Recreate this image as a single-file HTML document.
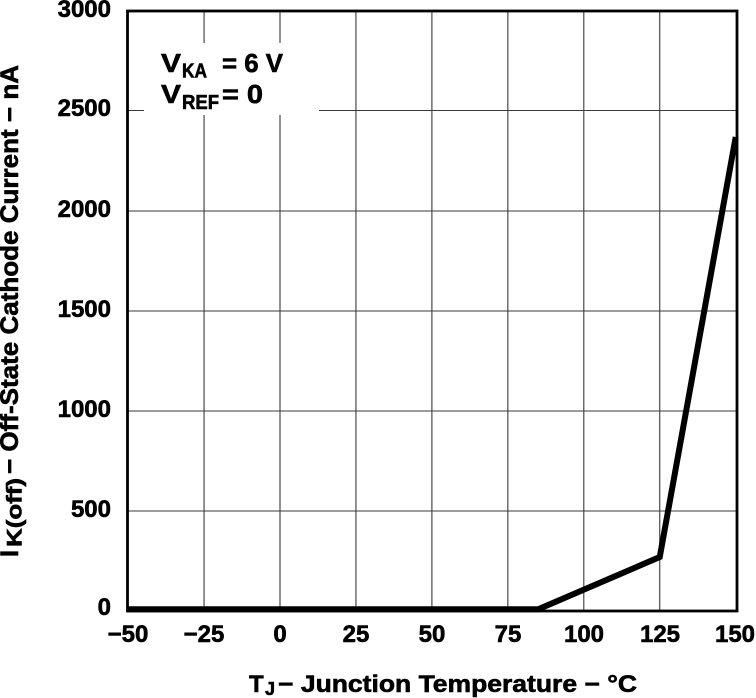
<!DOCTYPE html>
<html>
<head>
<meta charset="utf-8">
<style>
  html, body { margin: 0; padding: 0; background: #ffffff; }
  body { width: 756px; height: 698px; overflow: hidden; }
  svg { display: block; }
  text { font-family: "Liberation Sans", Arial, sans-serif; font-weight: bold; fill: #000; stroke: #000; stroke-width: 0.6; }
</style>
</head>
<body>
<svg width="756" height="698" viewBox="0 0 756 698" xmlns="http://www.w3.org/2000/svg">
  <!-- grid lines -->
  <g stroke="#3a3a3a" stroke-width="1.1" fill="none">
    <line x1="204.05" y1="11" x2="204.05" y2="611"/>
    <line x1="280" y1="11" x2="280" y2="611"/>
    <line x1="355.95" y1="11" x2="355.95" y2="611"/>
    <line x1="431.9" y1="11" x2="431.9" y2="611"/>
    <line x1="507.85" y1="11" x2="507.85" y2="611"/>
    <line x1="583.8" y1="11" x2="583.8" y2="611"/>
    <line x1="659.75" y1="11" x2="659.75" y2="611"/>
    <line x1="127.5" y1="110.5" x2="737" y2="110.5"/>
    <line x1="127.5" y1="211" x2="737" y2="211"/>
    <line x1="127.5" y1="311" x2="737" y2="311"/>
    <line x1="127.5" y1="411" x2="737" y2="411"/>
    <line x1="127.5" y1="511" x2="737" y2="511"/>
  </g>

  <!-- white legend box -->
  <rect x="144" y="43" width="175" height="72" fill="#ffffff"/>

  <!-- frame -->
  <rect x="127.5" y="11" width="609.5" height="600" fill="none" stroke="#000" stroke-width="2.8"/>

  <!-- data -->
  <polyline points="127.5,609.3 538.2,609.3 659.75,557 735.7,137" fill="none" stroke="#000" stroke-width="6" stroke-linejoin="miter" stroke-linecap="butt"/>

  <!-- legend text -->
  <text x="161" y="72" font-size="26" textLength="20" lengthAdjust="spacingAndGlyphs">V</text>
  <text x="182" y="77.5" font-size="20" textLength="25" lengthAdjust="spacingAndGlyphs">KA</text>
  <text x="222" y="72" font-size="26" textLength="61" lengthAdjust="spacingAndGlyphs">= 6 V</text>
  <text x="161" y="103" font-size="26" textLength="20" lengthAdjust="spacingAndGlyphs">V</text>
  <text x="182" y="109" font-size="20" textLength="37" lengthAdjust="spacingAndGlyphs">REF</text>
  <text x="222" y="103" font-size="26" textLength="41" lengthAdjust="spacingAndGlyphs">= 0</text>

  <!-- y tick labels -->
  <g font-size="24" text-anchor="end">
    <text x="111" y="17">3000</text>
    <text x="111" y="116">2500</text>
    <text x="111" y="217">2000</text>
    <text x="111" y="317">1500</text>
    <text x="111" y="417">1000</text>
    <text x="111" y="517">500</text>
    <text x="111" y="615">0</text>
  </g>

  <!-- x tick labels -->
  <g font-size="24" text-anchor="middle">
    <text x="128" y="642">−50</text>
    <text x="204" y="642">−25</text>
    <text x="280" y="642">0</text>
    <text x="356" y="642">25</text>
    <text x="432" y="642">50</text>
    <text x="508" y="642">75</text>
    <text x="584" y="642">100</text>
    <text x="660" y="642">125</text>
    <text x="735" y="642">150</text>
  </g>

  <!-- x axis title -->
  <text x="249" y="692" font-size="24">T</text>
  <text x="265" y="695" font-size="18">J</text>
  <text x="278" y="692" font-size="24" textLength="359" lengthAdjust="spacingAndGlyphs">− Junction Temperature − °C</text>

  <!-- y axis title (rotated) -->
  <text transform="translate(18,557) rotate(-90)" font-size="25">I</text>
  <text transform="translate(21.5,547) rotate(-90)" font-size="21" textLength="69" lengthAdjust="spacingAndGlyphs">K(off)</text>
  <text transform="translate(18,474) rotate(-90)" font-size="25" textLength="409" lengthAdjust="spacingAndGlyphs">− Off-State Cathode Current − nA</text>
</svg>
</body>
</html>
